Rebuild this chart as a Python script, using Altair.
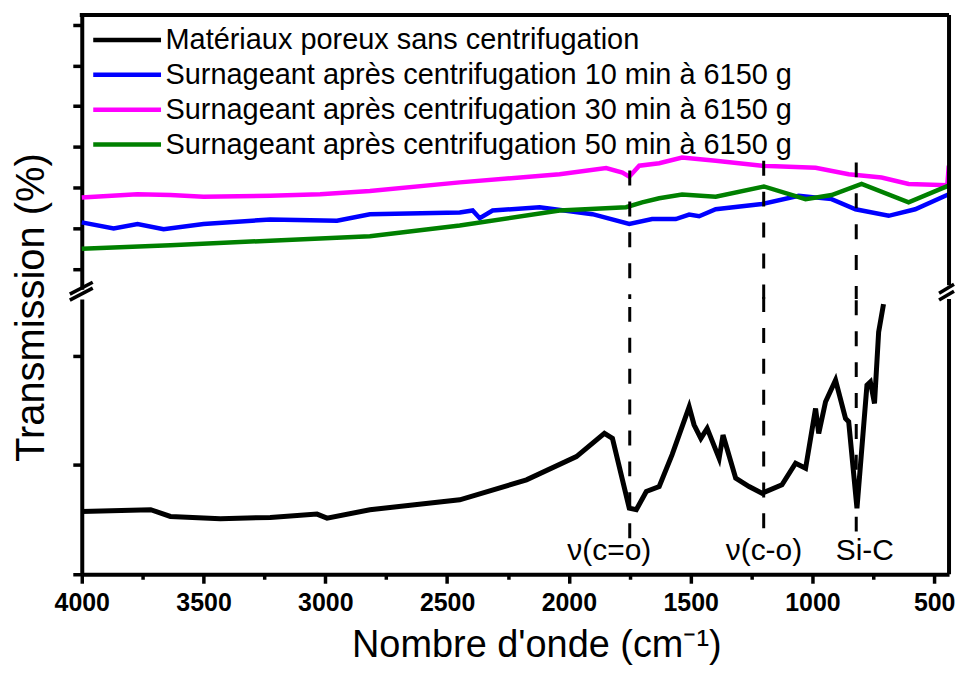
import altair as alt
import pandas as pd

series_names = [
    "Matériaux poreux sans centrifugation",
    "Surnageant après centrifugation 10 min à 6150 g",
    "Surnageant après centrifugation 30 min à 6150 g",
    "Surnageant après centrifugation 50 min à 6150 g",
]
series_colors = ["#000000", "#0000ff", "#ff00ff", "#008000"]

# lower panel (black)
black_x = [4000, 3717, 3636, 3431, 3226, 3034, 2993, 2817, 2448, 2174, 1969, 1854, 1821,
           1752, 1723, 1682, 1629, 1576, 1506, 1486, 1458, 1432, 1383, 1367, 1315, 1260,
           1207, 1125, 1069, 1028, 987, 974, 946, 905, 864, 851, 817, 776, 762, 745, 728, 708]
black_y = [0.574, 0.590, 0.529, 0.508, 0.520, 0.550, 0.513, 0.590, 0.681, 0.863, 1.076, 1.288, 1.242,
           0.604, 0.590, 0.757, 0.802, 1.094, 1.531, 1.367, 1.242, 1.334, 1.060, 1.273, 0.878, 0.802,
           0.741, 0.818, 1.015, 0.969, 1.516, 1.288, 1.577, 1.775, 1.425, 1.395, 0.604, 1.729, 1.759,
           1.562, 2.215, 2.47]

# upper panel
blue_x = [4000, 3869, 3771, 3664, 3500, 3226, 2952, 2817, 2448, 2395, 2366, 2313, 2120, 1903,
          1752, 1658, 1561, 1506, 1465, 1397, 1207, 1056, 921, 823, 687, 578, 440]
blue_y = [1.15, 1.00, 1.11, 0.98, 1.11, 1.22, 1.19, 1.35, 1.39, 1.44, 1.25, 1.44, 1.52, 1.35,
          1.11, 1.23, 1.23, 1.34, 1.30, 1.47, 1.60, 1.80, 1.72, 1.47, 1.31, 1.47, 1.84]

magenta_x = [4000, 3772, 3636, 3500, 3226, 3021, 2817, 2448, 2038, 1847, 1780, 1752, 1711, 1629,
             1535, 1397, 1207, 987, 851, 716, 605, 446, 440]
magenta_y = [1.76, 1.84, 1.82, 1.78, 1.80, 1.84, 1.92, 2.13, 2.33, 2.48, 2.37, 2.27, 2.54, 2.60,
             2.74, 2.66, 2.54, 2.49, 2.33, 2.25, 2.09, 2.06, 2.54]

green_x = [4000, 3636, 3226, 2817, 2448, 2038, 1765, 1699, 1629, 1535, 1397, 1199, 1028, 921,
           798, 605, 441]
green_y = [0.50, 0.59, 0.70, 0.81, 1.07, 1.44, 1.52, 1.64, 1.74, 1.83, 1.78, 2.03, 1.72, 1.82,
           2.09, 1.64, 2.05]

peak_x = [1750, 1200, 820]
peak_top_upper = [2.42, 2.66, 2.62]
peak_bottom_lower = [0.33, 0.42, 0.39]
peak_labels = ["ν(c=o)", "ν(c-o)", "Si-C"]
peak_label_x = [1834, 1199, 785]
peak_label_y = [0.21, 0.21, 0.21]

x_ticks = [4000 - 250 * i for i in range(15)]
upper_ticks = [0.5 * i for i in range(13)]
lower_ticks = [0, 1, 2]

W, H1, H2 = 870, 275, 276
FONT = "Liberation Sans"

lower_df = pd.DataFrame({"wn": black_x, "T": black_y, "series": series_names[0]})
upper_df = pd.concat([
    pd.DataFrame({"wn": blue_x, "T": blue_y, "series": series_names[1]}),
    pd.DataFrame({"wn": magenta_x, "T": magenta_y, "series": series_names[2]}),
    pd.DataFrame({"wn": green_x, "T": green_y, "series": series_names[3]}),
])
peaks_df = pd.DataFrame({"wn": peak_x, "top": peak_top_upper, "bot": peak_bottom_lower,
                         "label": peak_labels, "lx": peak_label_x, "ly": peak_label_y})
one = pd.DataFrame({"a": [0]})

xscale = alt.Scale(domain=[4000, 439], nice=False, zero=False)
color = alt.Color("series:N",
                  scale=alt.Scale(domain=series_names, range=series_colors),
                  legend=alt.Legend(title=None, orient="none", legendX=9, legendY=7.5,
                                    symbolType="stroke", symbolSize=68 * 68, symbolStrokeWidth=4.5,
                                    clipHeight=35, rowPadding=0, padding=0, labelOffset=2,
                                    labelFont=FONT, labelFontSize=29, labelColor="black",
                                    labelLimit=800))

def seg(x1, y1, x2, y2, w=3.5):
    return alt.Chart(one).mark_rule(color="black", strokeWidth=w).encode(
        x=alt.value(x1), y=alt.value(y1), x2=alt.value(x2), y2=alt.value(y2))

uy = alt.Scale(domain=[-0.489, 6.235], nice=False, zero=False)
upper_lines = alt.Chart(upper_df).mark_line(strokeWidth=4.5).encode(
    x=alt.X("wn:Q", scale=xscale, axis=None),
    y=alt.Y("T:Q", scale=uy, axis=alt.Axis(
        values=upper_ticks, labels=False, title=None,
        tickSize={"condition": {"test": "datum.value % 1 === 0", "value": 9}, "value": 5})),
    color=color,
)
upper_dash = alt.Chart(peaks_df).mark_rule(color="black", strokeWidth=3, strokeDash=[15, 16]).encode(
    x=alt.X("wn:Q", scale=xscale), y=alt.Y("top:Q", scale=uy), y2=alt.value(H1 + 10))
upper = alt.layer(
    upper_lines, upper_dash,
    seg(-2, 0, W, 0, 4), seg(W, 0, W, H1 - 4, 4),
).properties(width=W, height=H1)

ly = alt.Scale(domain=[0, 2.516], nice=False, zero=False)
lower_line = alt.Chart(lower_df).mark_line(strokeWidth=5).encode(
    x=alt.X("wn:Q", scale=xscale, axis=alt.Axis(
        values=x_ticks, format="d", title="Nombre d'onde (cm⁻¹)", titleFont=FONT, titleFontSize=38,
        titleFontWeight="normal", titleColor="black", titleX=456, titleY=72,
        titleBaseline="middle",
        labelExpr="datum.value % 500 === 0 ? datum.label : ''",
        labelFont=FONT, labelFontWeight="bold",
        labelFontSize=25, labelColor="black", labelPadding=7, labelFlush=False,
        tickSize={"condition": {"test": "datum.value % 500 === 0", "value": 9}, "value": 5})),
    y=alt.Y("T:Q", scale=ly, axis=alt.Axis(
        values=lower_ticks, labels=False, title="Transmission (%)", titleFont=FONT,
        titleFontSize=40, titleFontWeight="normal", titleColor="black", titleX=-50, titleY=8,
        titleBaseline="middle", titleAngle=-90, tickSize=9)),
    color=color,
)
lower_dash = alt.Chart(peaks_df).mark_rule(color="black", strokeWidth=3, strokeDash=[15, 16]).encode(
    x=alt.X("wn:Q", scale=xscale), y=alt.Y("bot:Q", scale=ly), y2=alt.value(-6))
lower_text = alt.Chart(peaks_df).mark_text(font=FONT, fontSize=30, color="black", baseline="middle").encode(
    x=alt.X("lx:Q", scale=xscale), y=alt.Y("ly:Q", scale=ly), text="label:N")
lower = alt.layer(
    lower_line, lower_dash, lower_text,
    seg(W, 0, W, H2, 4),
    seg(-12, 1, 11, -11), seg(-12, -5, 11, -17),
    seg(W - 10, 1, W + 5, -8), seg(W - 10, -6, W + 5, -15),
).properties(width=W, height=H2)

chart = alt.vconcat(upper, lower, spacing=10, bounds="flush").properties(
    padding={"left": 3, "top": 4, "right": 0, "bottom": 0}
).configure_view(stroke=None).configure_axis(
    domainColor="black", domainWidth=4, tickColor="black", tickWidth=3.5, grid=False
)

chart.save("out.html", embed_options={"renderer": "svg", "actions": False})
